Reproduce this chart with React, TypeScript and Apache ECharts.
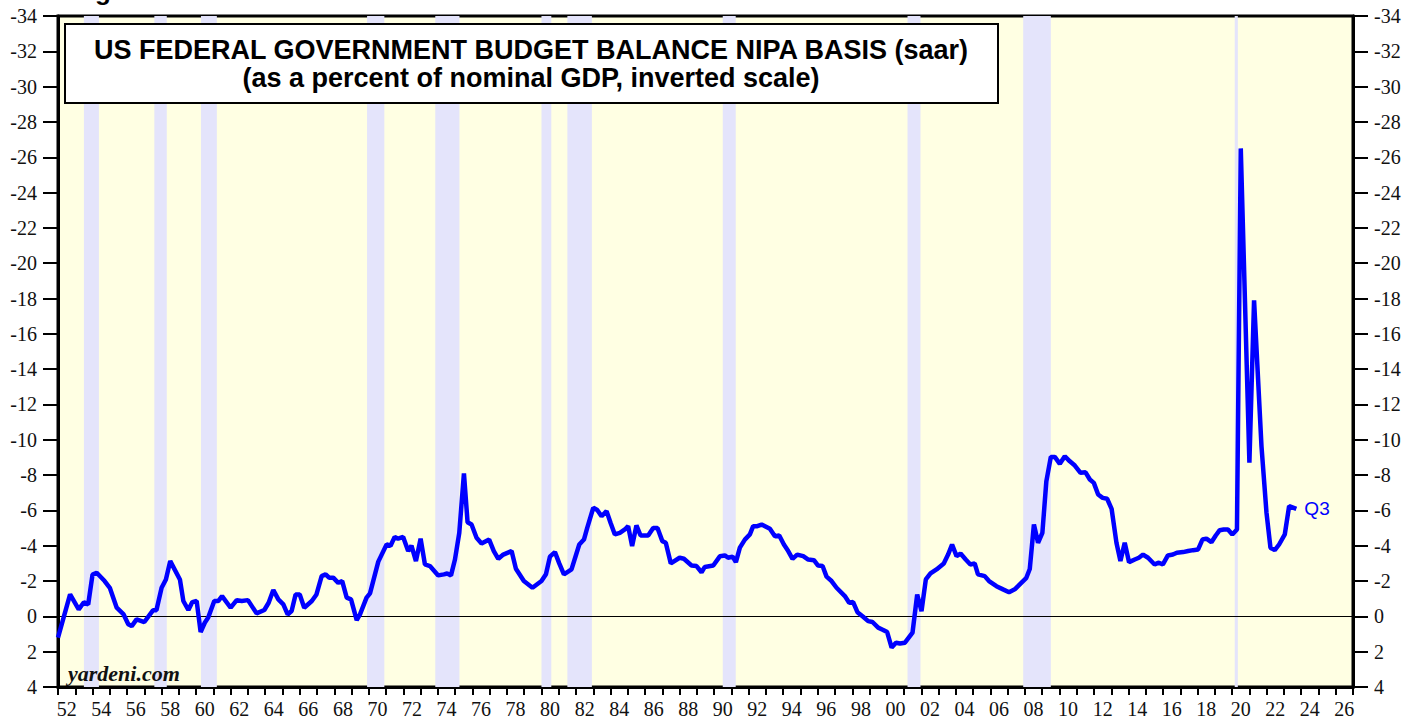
import React, { useEffect, useRef } from "react";
import * as echarts from "echarts";

// Quarter dates (fractional years)
const dates: number[] = [
  1952.0, 1952.7, 1953.2, 1953.5, 1953.75, 1954.0, 1954.24, 1954.7, 1955.0, 1955.4,
  1955.8, 1956.07, 1956.27, 1956.55, 1957.0, 1957.5, 1957.7, 1958.0, 1958.25, 1958.5,
  1959.06, 1959.26, 1959.55, 1959.78, 1960.03, 1960.26, 1960.5, 1960.7, 1961.05, 1961.28,
  1961.5, 1962.0, 1962.35, 1962.64, 1963.0, 1963.5, 1963.95, 1964.2, 1964.47, 1964.76,
  1965.05, 1965.3, 1965.53, 1965.76, 1966.0, 1966.26, 1966.7, 1966.97, 1967.27, 1967.5,
  1967.7, 1967.94, 1968.23, 1968.46, 1968.72, 1968.97, 1969.3, 1969.49, 1969.87, 1970.07,
  1970.55, 1971.03, 1971.26, 1971.5, 1971.7, 1971.99, 1972.28, 1972.47, 1972.73, 1973.0,
  1973.25, 1973.54, 1974.02, 1974.35, 1974.54, 1974.76, 1974.99, 1975.24, 1975.51, 1975.72,
  1975.95, 1976.24, 1976.53, 1976.97, 1977.24, 1977.5, 1977.79, 1978.27, 1978.52, 1978.98,
  1979.48, 1980.0, 1980.26, 1980.49, 1980.78, 1981.03, 1981.3, 1981.74, 1982.19, 1982.46,
  1982.65, 1983.0, 1983.23, 1983.48, 1983.77, 1984.0, 1984.25, 1984.54, 1984.83, 1985.02,
  1985.25, 1985.5, 1985.74, 1986.18, 1986.47, 1986.72, 1987.0, 1987.2, 1987.49, 1988.0,
  1988.25, 1988.69, 1988.98, 1989.27, 1989.46, 1989.95, 1990.33, 1990.62, 1990.81, 1991.07,
  1991.26, 1991.49, 1991.78, 1992.07, 1992.26, 1992.5, 1992.75, 1993.23, 1993.52, 1993.77,
  1994.04, 1994.29, 1994.54, 1994.81, 1995.16, 1995.45, 1995.78, 1996.02, 1996.28, 1996.51,
  1996.8, 1997.09, 1997.57, 1997.82, 1998.05, 1998.3, 1998.63, 1998.92, 1999.17, 1999.5,
  1999.79, 2000.02, 2000.28, 2000.53, 2000.76, 2001.05, 2001.49, 2001.76, 2002.01, 2002.26,
  2002.53, 2002.88, 2003.3, 2003.55, 2003.78, 2004.04, 2004.27, 2004.57, 2004.84, 2005.09,
  2005.28, 2005.67, 2005.92, 2006.35, 2006.73, 2007.08, 2007.41, 2007.7, 2008.07, 2008.28,
  2008.52, 2008.76, 2009.01, 2009.24, 2009.5, 2009.73, 2010.02, 2010.31, 2010.6, 2010.89,
  2011.22, 2011.51, 2011.76, 2011.99, 2012.24, 2012.5, 2012.76, 2013.02, 2013.3, 2013.53,
  2013.78, 2014.03, 2014.36, 2014.6, 2014.84, 2015.13, 2015.51, 2015.76, 2015.99, 2016.28,
  2016.57, 2016.8, 2017.16, 2017.45, 2017.74, 2018.03, 2018.28, 2018.51, 2018.8, 2019.05,
  2019.28, 2019.51, 2019.76, 2020.01, 2020.28, 2020.5, 2021.0, 2021.27, 2021.7, 2021.99,
  2022.22, 2022.47, 2022.72, 2023.05, 2023.3, 2023.72,
];

// Budget balance, % of nominal GDP (negative = deficit)
const balance: number[] = [
  1.2, -1.24, -0.4, -0.8, -0.68, -2.37, -2.47, -2.0, -1.62, -0.49,
  -0.11, 0.45, 0.55, 0.17, 0.32, -0.34, -0.34, -1.62, -2.09, -3.13,
  -2.09, -0.87, -0.36, -0.81, -0.87, 0.89, 0.36, 0.07, -0.87, -0.87,
  -1.15, -0.49, -0.92, -0.87, -0.92, -0.17, -0.36, -0.77, -1.49, -0.96,
  -0.68, -0.11, -0.3, -1.24, -1.24, -0.49, -0.87, -1.24, -2.28, -2.38,
  -2.19, -2.19, -1.9, -2.0, -1.06, -0.96, 0.21, -0.11, -1.06, -1.3,
  -3.1, -4.07, -4.0, -4.5, -4.4, -4.5, -3.7, -4.0, -3.13, -4.4,
  -2.94, -2.85, -2.32, -2.38, -2.43, -2.32, -3.22, -4.73, -8.09, -5.33,
  -5.2, -4.45, -4.13, -4.35, -3.7, -3.26, -3.5, -3.7, -2.7, -2.0,
  -1.62, -2.0, -2.38, -3.38, -3.64, -3.0, -2.38, -2.66, -4.07, -4.35,
  -5.01, -6.15, -6.02, -5.67, -5.96, -5.3, -4.64, -4.73, -4.92, -5.11,
  -3.98, -5.15, -4.58, -4.58, -5.01, -5.01, -4.26, -4.17, -3.0, -3.32,
  -3.26, -2.88, -2.85, -2.5, -2.8, -2.88, -3.4, -3.45, -3.32, -3.38,
  -3.07, -3.89, -4.35, -4.64, -5.11, -5.11, -5.2, -4.96, -4.54, -4.58,
  -4.07, -3.7, -3.26, -3.5, -3.41, -3.22, -3.18, -2.88, -2.85, -2.25,
  -2.0, -1.62, -1.15, -0.77, -0.81, -0.24, 0.02, 0.27, 0.32, 0.64,
  0.77, 0.89, 1.77, 1.49, 1.54, 1.49, 0.92, -1.24, -0.3, -2.09,
  -2.43, -2.66, -3.0, -3.5, -4.07, -3.41, -3.56, -3.22, -2.94, -3.0,
  -2.38, -2.28, -2.0, -1.71, -1.53, -1.37, -1.53, -1.81, -2.16, -2.68,
  -5.2, -4.17, -4.73, -7.65, -9.03, -9.03, -8.64, -9.07, -8.78, -8.54,
  -8.13, -8.16, -7.75, -7.56, -6.9, -6.71, -6.66, -6.09, -4.17, -3.13,
  -4.17, -3.07, -3.22, -3.32, -3.5, -3.32, -2.94, -3.04, -2.94, -3.45,
  -3.5, -3.6, -3.64, -3.7, -3.75, -3.79, -4.35, -4.4, -4.2, -4.58,
  -4.88, -4.92, -4.92, -4.64, -4.92, -26.5, -8.7, -17.9, -9.63, -5.87,
  -3.89, -3.75, -4.07, -4.64, -6.24, -6.09,
];

// Recession periods (start, end) in fractional years
const recessionStarts: number[] = [1953.5, 1957.58, 1960.28, 1969.9, 1973.85, 1980.0, 1981.5, 1990.5, 2001.2, 2007.9, 2020.15];
const recessionEnds: number[] = [1954.37, 1958.3, 1961.2, 1970.9, 1975.25, 1980.57, 1982.92, 1991.25, 2001.95, 2009.5, 2020.33];

// X axis year categories (labels are the last two digits)
const years: string[] = Array.from({ length: 75 }, (_, i) => String(1952 + i));

const titleLine1 = "US FEDERAL GOVERNMENT BUDGET BALANCE NIPA BASIS (saar)";
const titleLine2 = "(as a percent of nominal GDP, inverted scale)";
const lastLabel = "Q3";

export default function App() {
  const ref = useRef<HTMLDivElement>(null);

  useEffect(() => {
    if (!ref.current) return;
    const chart = echarts.init(ref.current, undefined, { renderer: "svg" });

    const lineData = dates.map((d, i) => [d, balance[i]]);
    const areas = recessionStarts.map((s, i) => [{ xAxis: s }, { xAxis: recessionEnds[i] }]);

    const labelFont = {
      fontFamily: "Liberation Serif",
      fontSize: 20,
      color: "#111",
    };

    const yAxisBase = {
      type: "value",
      min: -34,
      max: 4,
      interval: 2,
      inverse: true,
      splitLine: { show: false },
      axisLine: { show: true, onZero: false, lineStyle: { color: "#000", width: 3 } },
      axisTick: { show: true, length: 15, lineStyle: { color: "#000", width: 2 } },
      axisLabel: { ...labelFont, margin: 21, showMinLabel: true, showMaxLabel: true, formatter: (v: number) => String(v) },
    };

    chart.setOption({
      animation: false,
      backgroundColor: "#ffffff",
      grid: {
        left: 58,
        right: 68,
        top: 16,
        bottom: 32,
        show: true,
        backgroundColor: "#ffffe3",
        borderColor: "#000",
        borderWidth: 3,
      },
      xAxis: [
        {
          type: "category",
          data: years,
          boundaryGap: true,
          position: "bottom",
          axisLine: { show: true, onZero: false, lineStyle: { color: "#000", width: 3 } },
          axisTick: { show: true, interval: 0, length: 8, lineStyle: { color: "#000", width: 2 } },
          axisLabel: { ...labelFont, interval: 1, margin: 12, formatter: (v: string) => v.slice(2) },
          splitLine: { show: false },
        },
        {
          type: "value",
          min: 1952,
          max: 2027,
          show: false,
          axisLine: { show: false, onZero: false },
          splitLine: { show: false },
        },
      ],
      yAxis: [
        { ...yAxisBase, position: "left" },
        { ...yAxisBase, position: "right" },
      ],
      series: [
        {
          name: "recessions",
          type: "line",
          xAxisIndex: 1,
          yAxisIndex: 0,
          data: [],
          silent: true,
          z: 1,
          markArea: {
            silent: true,
            itemStyle: { color: "#e4e4fb" },
            data: areas,
          },
          markLine: {
            silent: true,
            symbol: ["none", "none"],
            label: { show: false },
            lineStyle: { color: "#000", width: 1.2, type: "solid" },
            data: [{ yAxis: 0 }],
          },
        },
        {
          name: "balance",
          type: "line",
          xAxisIndex: 1,
          yAxisIndex: 0,
          data: lineData,
          showSymbol: false,
          symbol: "none",
          z: 5,
          lineStyle: { color: "#0000ff", width: 4.5 },
          endLabel: {
            show: true,
            formatter: lastLabel,
            color: "#0000ff",
            fontFamily: "Liberation Sans",
            fontSize: 19,
            distance: 8,
          },
        },
      ],
      graphic: [
        {
          type: "text",
          z: 100,
          x: 72,
          y: 4,
          style: {
            text: "Figure 1.",
            font: "bold 26px 'Liberation Sans'",
            fill: "#000",
            textAlign: "left",
            textVerticalAlign: "bottom",
          },
        },
        {
          type: "rect",
          z: 100,
          shape: { x: 65, y: 24, width: 933, height: 79 },
          style: { fill: "#ffffff", stroke: "#000", lineWidth: 2 },
        },
        {
          type: "text",
          z: 101,
          x: 531,
          y: 50,
          style: {
            text: titleLine1,
            font: "bold 27px 'Liberation Sans'",
            fill: "#000",
            textAlign: "center",
            textVerticalAlign: "middle",
          },
        },
        {
          type: "text",
          z: 101,
          x: 531,
          y: 78,
          style: {
            text: titleLine2,
            font: "bold 27px 'Liberation Sans'",
            fill: "#000",
            textAlign: "center",
            textVerticalAlign: "middle",
          },
        },
        {
          type: "text",
          z: 101,
          x: 68,
          y: 673,
          style: {
            text: "yardeni.com",
            font: "italic bold 22px 'Liberation Serif'",
            fill: "#111",
            textAlign: "left",
            textVerticalAlign: "middle",
          },
        },
      ],
    });

    return () => chart.dispose();
  }, []);

  return (
    <div
      ref={ref}
      style={{ position: "fixed", left: 0, top: 0, width: 1421, height: 719 }}
    />
  );
}
